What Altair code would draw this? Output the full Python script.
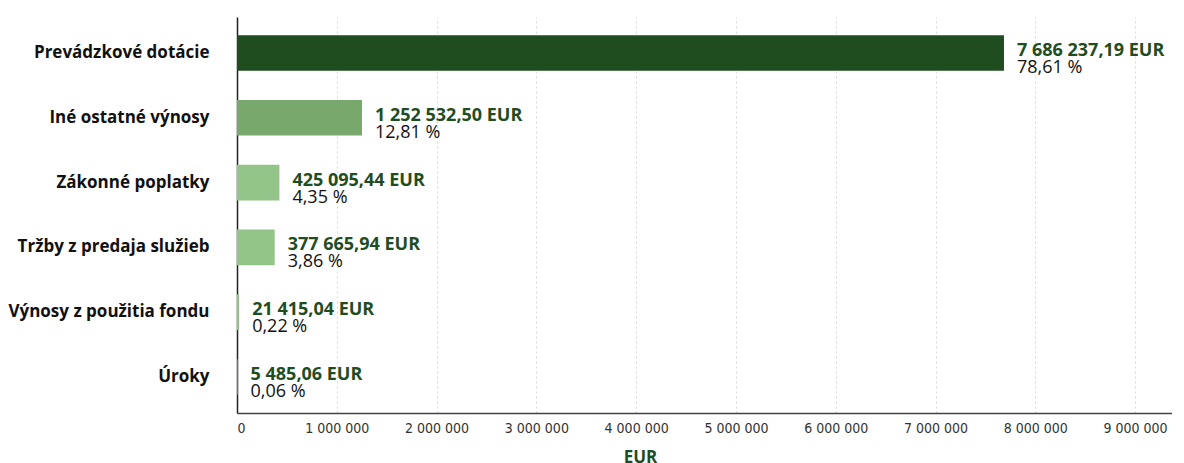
import altair as alt
import pandas as pd

categories = ["Prevádzkové dotácie", "Iné ostatné výnosy", "Zákonné poplatky",
              "Tržby z predaja služieb", "Výnosy z použitia fondu", "Úroky"]
values = [7686237.19, 1252532.50, 425095.44, 377665.94, 21415.04, 5485.06]
percents = [78.61, 12.81, 4.35, 3.86, 0.22, 0.06]
shades = ["dark", "mid", "light", "light", "light", "light"]


def fmt_eur(v):
    s = f"{v:,.2f}"
    s = s.replace(",", " ").replace(".", ",")
    return s + " EUR"


def fmt_pct(p):
    return f"{p:.2f}".replace(".", ",") + " %"


df = pd.DataFrame({
    "cat": categories,
    "val": values,
    "eur": [fmt_eur(v) for v in values],
    "pct": [fmt_pct(p) for p in percents],
    "shade": shades,
})

FONT = "Open Sans"
DARK = "#1f4d1f"

y = alt.Y("cat:N", sort=categories, title=None,
          scale=alt.Scale(paddingInner=0.45, paddingOuter=0.28),
          axis=alt.Axis(labelFont=FONT, labelFontWeight="bold", labelFontSize=17,
                        labelColor="#111111", labelPadding=28, labelLimit=260,
                        ticks=False, domainColor="#222222", domainWidth=1.5,
                        grid=False))
x = alt.X("val:Q", title="EUR",
          scale=alt.Scale(domain=[0, 9370000], nice=False),
          axis=alt.Axis(values=[0, 1000000, 2000000, 3000000, 4000000, 5000000,
                                6000000, 7000000, 8000000, 9000000],
                        labelExpr="replace(format(datum.value, ',d'), regexp(',', 'g'), ' ')",
                        labelFont="DejaVu Sans Condensed", labelFontSize=14,
                        labelColor="#333333", labelPadding=8, ticks=False,
                        domainColor="#444444", domainWidth=1.5,
                        grid=True, gridDash=[2, 3], gridColor="#d8d8d8",
                        titleFont=FONT, titleFontWeight="bold", titleFontSize=17,
                        titleColor=DARK, titleX=403, titleY=36,
                        titleBaseline="top"))

base = alt.Chart(df)

bars = base.mark_bar().encode(
    x=x, y=y,
    color=alt.Color("shade:N", legend=None,
                    scale=alt.Scale(domain=["dark", "mid", "light"],
                                    range=[DARK, "#79a86d", "#94c588"])),
)

t1 = base.mark_text(align="left", baseline="alphabetic", dx=13, dy=3,
                    font=FONT, fontSize=18, fontWeight="bold", color=DARK).encode(
    x="val:Q", y=alt.Y("cat:N", sort=categories), text="eur:N")
t2 = base.mark_text(align="left", baseline="alphabetic", dx=13, dy=20,
                    font=FONT, fontSize=18, color="#111111").encode(
    x="val:Q", y=alt.Y("cat:N", sort=categories), text="pct:N")

chart = alt.layer(bars, t1, t2).properties(
    width=935, height=396,
    padding={"left": 229, "top": 9, "right": 0, "bottom": 60},
    autosize=alt.AutoSizeParams(type="none"),
).configure(background="white").configure_view(stroke=None)

chart.save("out.html", embed_options={"renderer": "svg", "actions": False})
